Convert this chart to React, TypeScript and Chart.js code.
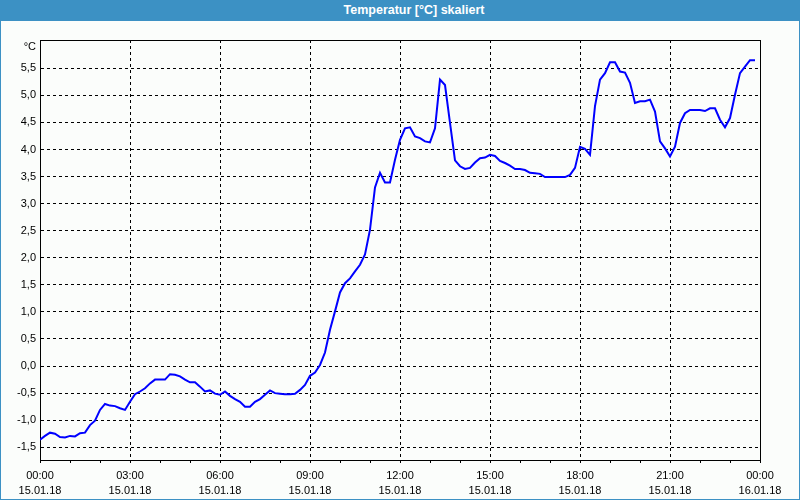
import React, { useEffect, useRef } from 'react';
import { Chart, registerables } from 'chart.js';

Chart.register(...registerables);

// time in minutes after 15.01.18 00:00
const minutes = [
  0, 10, 20, 30, 40, 50, 60, 70, 80, 90, 100, 110, 120, 130, 140, 150, 160, 170,
  180, 190, 200, 210, 220, 230, 240, 250, 260, 270, 280, 290, 300, 310, 320, 330,
  340, 350, 360, 370, 380, 390, 400, 410, 420, 430, 440, 450, 460, 470, 480, 490,
  500, 510, 520, 530, 540, 550, 560, 570, 580, 590, 600, 610, 620, 630, 640, 650,
  660, 670, 680, 690, 700, 710, 720, 730, 740, 750, 760, 770, 780, 790, 800, 810,
  820, 830, 840, 850, 860, 870, 880, 890, 900, 910, 920, 930, 940, 950, 960, 970,
  980, 990, 1000, 1010, 1020, 1030, 1040, 1050, 1060, 1070, 1080, 1090, 1100, 1110,
  1120, 1130, 1140, 1150, 1160, 1170, 1180, 1190, 1200, 1210, 1220, 1230, 1240,
  1250, 1260, 1270, 1280, 1290, 1300, 1310, 1320, 1330, 1340, 1350, 1360, 1370,
  1380, 1390, 1400, 1410, 1420, 1430,
];

// temperature in °C
const temps = [
  -1.36, -1.29, -1.23, -1.25, -1.31, -1.32, -1.29, -1.3, -1.24, -1.23, -1.09, -1.01,
  -0.81, -0.7, -0.73, -0.74, -0.78, -0.81, -0.66, -0.52, -0.47, -0.41, -0.32, -0.25,
  -0.25, -0.25, -0.15, -0.16, -0.19, -0.25, -0.3, -0.3, -0.38, -0.47, -0.45, -0.51,
  -0.53, -0.47, -0.55, -0.61, -0.66, -0.75, -0.75, -0.66, -0.61, -0.53, -0.45, -0.5,
  -0.51, -0.52, -0.52, -0.51, -0.44, -0.35, -0.18, -0.12, 0.02, 0.25, 0.67, 1.01,
  1.36, 1.53, 1.62, 1.75, 1.87, 2.06, 2.52, 3.3, 3.57, 3.39, 3.39, 3.81, 4.18, 4.39,
  4.41, 4.24, 4.21, 4.15, 4.13, 4.39, 5.29, 5.19, 4.49, 3.8, 3.69, 3.64, 3.66, 3.76,
  3.84, 3.85, 3.9, 3.88, 3.79, 3.75, 3.7, 3.64, 3.64, 3.62, 3.57, 3.56, 3.55, 3.49,
  3.49, 3.49, 3.49, 3.49, 3.53, 3.66, 4.05, 4.01, 3.9, 4.8, 5.29, 5.41, 5.61, 5.61,
  5.44, 5.42, 5.23, 4.86, 4.89, 4.89, 4.92, 4.7, 4.15, 4.02, 3.87, 4.05, 4.49, 4.67,
  4.73, 4.73, 4.73, 4.71, 4.76, 4.76, 4.55, 4.41, 4.58, 5.01, 5.41, 5.53, 5.65, 5.65,
];

const timeLabels = ['00:00', '03:00', '06:00', '09:00', '12:00', '15:00', '18:00', '21:00', '00:00'];
const dateLabels = ['15.01.18', '15.01.18', '15.01.18', '15.01.18', '15.01.18', '15.01.18', '15.01.18', '15.01.18', '16.01.18'];

const X_MIN = 0;
const X_MAX = 1440;
const X_STEP = 60;
const X_LABEL_STEP = 180;
const Y_MIN = -1.735;
const Y_MAX = 6.022;
const Y_STEP = 0.5;
const Y_LAST_TICK = 5.5;
const UNIT = '°C';
const TITLE = 'Temperatur [°C] skaliert';

const BAR_BLUE = '#3c91c4';
const FONT = '"Liberation Sans", Arial, sans-serif';

const framePlugin = {
  id: 'frame',
  beforeDatasetsDraw(chart: any) {
    const { ctx, chartArea: a } = chart;
    ctx.save();
    ctx.strokeStyle = '#000';
    ctx.lineWidth = 1;
    ctx.setLineDash([]);
    ctx.strokeRect(
      Math.round(a.left) + 0.5,
      Math.round(a.top) + 0.5,
      Math.round(a.right - a.left),
      Math.round(a.bottom - a.top)
    );
    ctx.fillStyle = '#000';
    ctx.font = '11px ' + FONT;
    ctx.textAlign = 'right';
    ctx.textBaseline = 'middle';
    ctx.fillText(UNIT, a.left - 4, a.top + 7);
    ctx.restore();
  },
};

export default function App() {
  const ref = useRef<HTMLCanvasElement>(null);

  useEffect(() => {
    document.body.style.margin = '0';
    const points = minutes.map((m, i) => ({ x: m, y: temps[i] }));
    const chart = new Chart(ref.current as HTMLCanvasElement, {
      type: 'line',
      data: {
        datasets: [
          {
            data: points,
            borderColor: '#0000ff',
            borderWidth: 2,
            pointRadius: 0,
            tension: 0,
            fill: false,
          },
        ],
      },
      options: {
        responsive: false,
        maintainAspectRatio: false,
        devicePixelRatio: 1,
        animation: false,
        events: [],
        layout: { padding: { top: 19, right: 39, left: 0, bottom: 0 } },
        plugins: {
          legend: { display: false },
          tooltip: { enabled: false },
          title: { display: false },
        },
        scales: {
          x: {
            type: 'linear',
            min: X_MIN,
            max: X_MAX,
            afterFit: (scale: any) => {
              scale.height = 39;
            },
            ticks: {
              stepSize: X_STEP,
              autoSkip: false,
              maxRotation: 0,
              minRotation: 0,
              padding: 6,
              color: '#000',
              font: { family: FONT, size: 11, lineHeight: 1.33 },
              callback: (value: any) => {
                const v = Number(value);
                if (v % X_LABEL_STEP !== 0) return '';
                const i = v / X_LABEL_STEP;
                return [timeLabels[i], dateLabels[i]];
              },
            },
            grid: {
              color: (c: any) =>
                c.tick && c.tick.value % X_LABEL_STEP === 0 ? '#000' : 'rgba(0,0,0,0)',
              lineWidth: 1,
              drawTicks: true,
              tickLength: 3,
              tickColor: '#000',
              tickWidth: 1,
              tickBorderDash: [],
            },
            border: { display: true, color: '#000', width: 1, dash: [3, 3] },
          },
          y: {
            type: 'linear',
            min: Y_MIN,
            max: Y_MAX,
            afterFit: (scale: any) => {
              scale.width = 39;
            },
            afterBuildTicks: (scale: any) => {
              scale.ticks = scale.ticks.filter((t: any) => t.value <= Y_LAST_TICK + 1e-9);
            },
            ticks: {
              stepSize: Y_STEP,
              includeBounds: false,
              autoSkip: false,
              padding: 4,
              color: '#000',
              font: { family: FONT, size: 11 },
              callback: (value: any) => Number(value).toFixed(1).replace('.', ','),
            },
            grid: {
              color: '#000',
              lineWidth: 1,
              drawTicks: false,
            },
            border: { display: true, color: '#000', width: 1, dash: [3, 3] },
          },
        },
      },
      plugins: [framePlugin],
    } as any);
    return () => chart.destroy();
  }, []);

  return (
    <div
      style={{
        width: 800,
        height: 500,
        boxSizing: 'border-box',
        borderLeft: '1px solid ' + BAR_BLUE,
        borderRight: '1px solid ' + BAR_BLUE,
        borderBottom: '1px solid ' + BAR_BLUE,
        background: '#fbfdfb',
        overflow: 'hidden',
      }}
    >
      <div
        style={{
          height: 21,
          margin: '0 -1px',
          paddingLeft: 28,
          background: BAR_BLUE,
          color: '#fff',
          fontFamily: FONT,
          fontWeight: 'bold',
          fontSize: 12.5,
          lineHeight: '21px',
          textAlign: 'center',
          whiteSpace: 'nowrap',
        }}
      >
        {TITLE}
      </div>
      <canvas ref={ref} width={798} height={478} style={{ display: 'block' }} />
    </div>
  );
}
